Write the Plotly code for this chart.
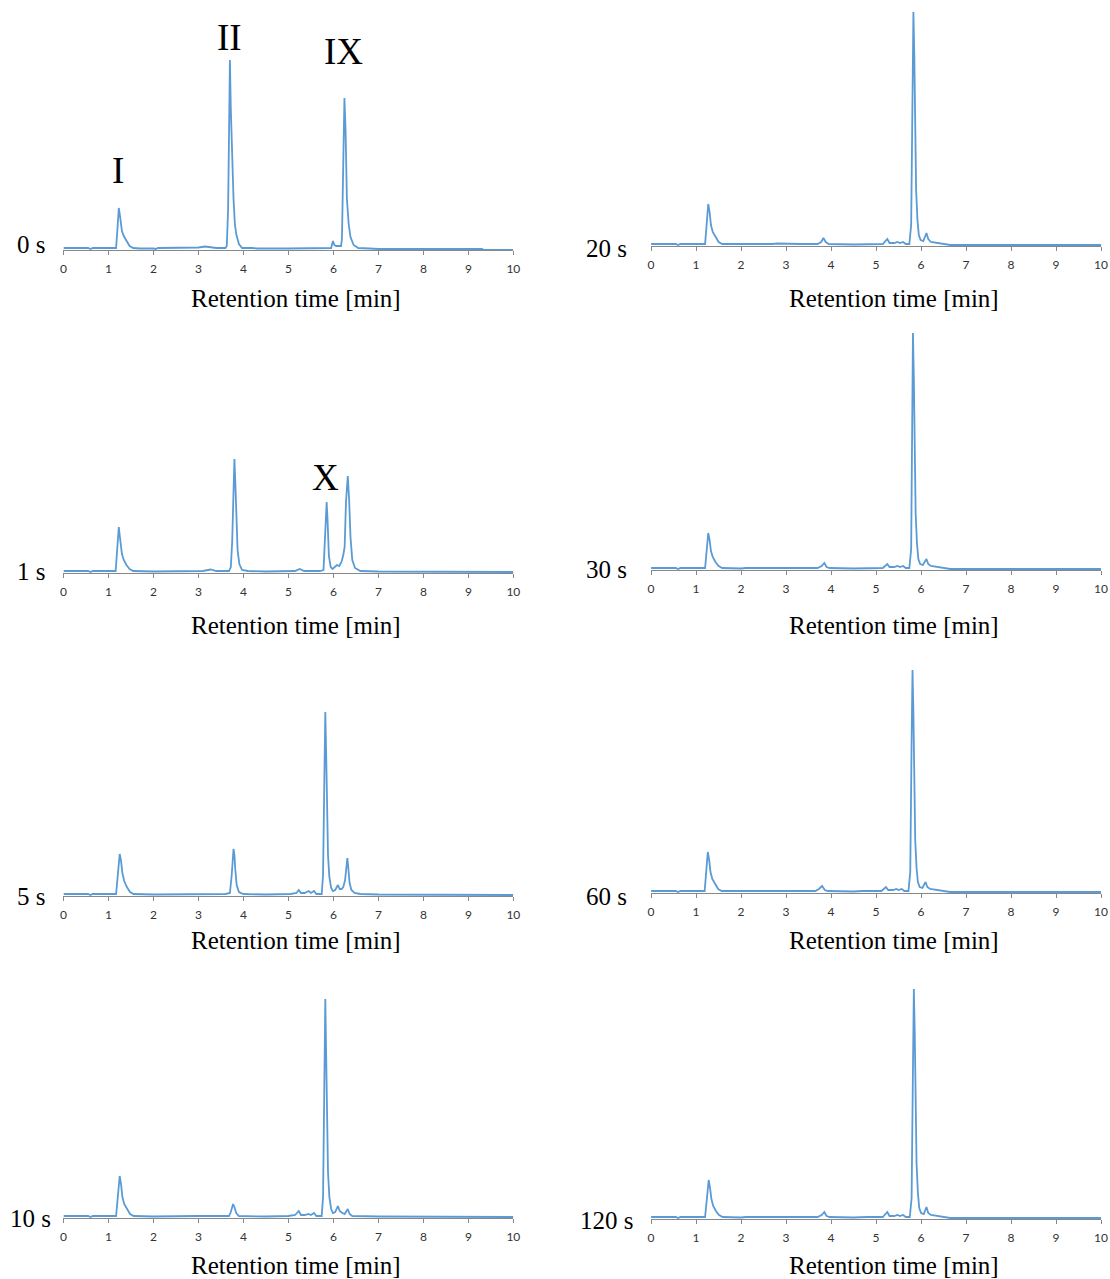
import plotly.graph_objects as go

# ---- Data: (retention time [min], detector signal [a.u.]) ----
trace_0s = [(0, 1), (0.55, 1), (0.6, 0), (0.65, 1), (1.0, 1), (1.17, 1), (1.20, 20), (1.23, 41), (1.26, 32),
            (1.30, 18), (1.34, 13), (1.40, 8), (1.47, 3), (1.55, 1), (1.7, 0.5), (2.0, 0.5), (2.05, 0), (2.1, 1),
            (2.8, 1), (3.0, 1.5), (3.15, 2.5), (3.25, 2), (3.4, 1), (3.6, 1), (3.63, 3), (3.66, 40), (3.68, 120),
            (3.70, 189), (3.72, 140), (3.75, 89), (3.78, 50), (3.81, 25), (3.84, 15), (3.90, 5), (3.97, 1),
            (4.2, 1), (4.3, 0.5), (5.0, 0.5), (5.9, 0.5), (5.95, 1), (5.99, 8), (6.02, 4), (6.06, 3), (6.12, 3),
            (6.17, 3), (6.19, 10), (6.21, 70), (6.245, 151), (6.27, 120), (6.30, 50), (6.34, 25), (6.38, 12),
            (6.45, 4), (6.55, 1), (6.8, 0.5), (7.0, 0), (8.0, 0), (9.3, 0), (9.35, -1), (10.0, -1)]

trace_1s = [(0, 1), (0.55, 1), (0.6, 0), (0.65, 1), (1.16, 1), (1.19, 20), (1.23, 45), (1.26, 33), (1.30, 18),
            (1.34, 12), (1.40, 7), (1.47, 3), (1.55, 1), (2.0, 0.5), (2.5, 0.5), (3.1, 1), (3.27, 2.5), (3.4, 1),
            (3.68, 1), (3.72, 5), (3.75, 30), (3.78, 90), (3.80, 113), (3.82, 90), (3.84, 50), (3.87, 22),
            (3.91, 8), (3.97, 2), (4.1, 1), (4.5, 0.5), (5.15, 1), (5.25, 3), (5.35, 1), (5.7, 1), (5.78, 2),
            (5.81, 30), (5.85, 70), (5.87, 52), (5.90, 16), (5.94, 5), (5.98, 3), (6.03, 5), (6.08, 7),
            (6.13, 6), (6.18, 10), (6.22, 17), (6.25, 25), (6.28, 70), (6.32, 96), (6.35, 72), (6.38, 35),
            (6.42, 12), (6.48, 4), (6.6, 1), (7.0, 0.5), (10.0, 0)]

trace_5s = [(0, 1), (0.55, 1), (0.6, 0), (0.65, 1), (1.17, 1), (1.20, 15), (1.25, 41), (1.28, 34), (1.31, 22),
            (1.35, 14), (1.41, 8), (1.48, 3), (1.56, 1), (2.0, 0.5), (3.2, 1), (3.3, 1.5), (3.6, 1), (3.70, 2),
            (3.74, 20), (3.78, 46), (3.80, 40), (3.82, 25), (3.85, 10), (3.90, 3), (4.0, 1), (4.5, 0.5),
            (5.05, 1), (5.18, 2), (5.23, 5), (5.28, 2), (5.36, 2), (5.45, 4), (5.50, 2), (5.57, 4), (5.62, 1),
            (5.74, 1), (5.77, 20), (5.80, 120), (5.82, 183), (5.84, 140), (5.86, 80), (5.88, 40), (5.91, 18),
            (5.95, 7), (5.99, 4), (6.04, 5), (6.10, 10), (6.14, 6), (6.18, 6), (6.22, 8), (6.26, 15),
            (6.29, 30), (6.31, 37), (6.33, 28), (6.36, 12), (6.40, 5), (6.47, 2), (6.6, 1), (7.0, 0.5), (10.0, 0)]

trace_10s = [(0, 1), (0.55, 1), (0.6, 0), (0.65, 1), (1.17, 1), (1.20, 15), (1.25, 41), (1.28, 33), (1.31, 20),
             (1.35, 13), (1.41, 8), (1.48, 3), (1.56, 1), (2.0, 0.5), (3.0, 1), (3.5, 1), (3.68, 1), (3.72, 5),
             (3.77, 13), (3.80, 10), (3.84, 4), (3.90, 1), (4.5, 0.5), (5.0, 1), (5.15, 2), (5.23, 6), (5.28, 2),
             (5.36, 2), (5.45, 3), (5.50, 2), (5.57, 4), (5.62, 1), (5.74, 1), (5.77, 20), (5.80, 140),
             (5.82, 218), (5.84, 160), (5.86, 90), (5.88, 45), (5.91, 20), (5.95, 8), (5.99, 4), (6.04, 5),
             (6.10, 11), (6.14, 6), (6.20, 4), (6.25, 3), (6.32, 8), (6.36, 3), (6.42, 1), (6.6, 1), (7.0, 0.5),
             (10.0, 0)]

trace_20s = [(0, 1), (0.55, 1), (0.6, 0), (0.65, 1), (1.20, 1), (1.23, 20), (1.27, 41), (1.30, 33), (1.33, 20),
             (1.37, 13), (1.43, 8), (1.50, 3), (1.58, 1), (2.0, 0.5), (2.1, 1), (2.7, 1), (2.8, 1.5), (3.3, 1),
             (3.7, 1), (3.78, 3), (3.83, 7), (3.88, 3), (3.95, 1), (4.5, 0.5), (4.8, 1), (5.15, 1), (5.25, 6),
             (5.30, 2), (5.40, 2), (5.48, 3), (5.53, 2), (5.60, 3), (5.66, 1), (5.74, 1), (5.78, 20), (5.81, 150),
             (5.83, 233), (5.85, 190), (5.87, 110), (5.89, 55), (5.92, 25), (5.95, 10), (5.99, 5), (6.05, 4),
             (6.12, 12), (6.16, 6), (6.22, 3), (6.35, 2), (6.55, 1), (6.65, 0), (7.0, 0), (10.0, 0)]

trace_30s = [(0, 1), (0.55, 1), (0.6, 0), (0.65, 1), (1.20, 1), (1.23, 18), (1.27, 36), (1.30, 29), (1.33, 18),
             (1.37, 12), (1.43, 7), (1.50, 3), (1.58, 1), (2.0, 0.5), (2.1, 1), (2.7, 1), (3.3, 1), (3.7, 1),
             (3.79, 3), (3.85, 6), (3.90, 2), (3.97, 1), (4.5, 0.5), (4.8, 1), (5.15, 1), (5.25, 5), (5.30, 2),
             (5.40, 2), (5.48, 3), (5.53, 2), (5.60, 3), (5.66, 1), (5.74, 1), (5.78, 20), (5.80, 150),
             (5.82, 236), (5.84, 190), (5.86, 110), (5.88, 55), (5.91, 25), (5.94, 10), (5.98, 5), (6.04, 4),
             (6.12, 10), (6.16, 5), (6.22, 3), (6.35, 2), (6.55, 1), (6.65, 0), (7.0, 0), (10.0, 0)]

trace_60s = [(0, 1), (0.55, 1), (0.6, 0), (0.65, 1), (1.19, 1), (1.22, 20), (1.26, 40), (1.29, 32), (1.32, 20),
             (1.36, 13), (1.42, 8), (1.49, 3), (1.57, 1), (2.0, 0.5), (2.1, 1), (2.7, 1), (3.3, 1), (3.65, 1),
             (3.73, 3), (3.80, 6), (3.86, 2), (3.93, 1), (4.5, 0.5), (4.7, 1), (5.12, 1), (5.22, 5), (5.27, 2),
             (5.38, 2), (5.45, 3), (5.50, 2), (5.57, 3), (5.63, 1), (5.72, 1), (5.76, 20), (5.79, 150),
             (5.81, 222), (5.83, 180), (5.85, 105), (5.87, 52), (5.90, 24), (5.93, 10), (5.97, 5), (6.03, 4),
             (6.10, 10), (6.14, 5), (6.20, 3), (6.33, 2), (6.55, 1), (6.65, 0), (7.0, 0), (10.0, 0)]

trace_120s = [(0, 1), (0.55, 1), (0.6, 0), (0.65, 1), (1.20, 1), (1.23, 18), (1.28, 38), (1.31, 30), (1.34, 19),
              (1.38, 12), (1.44, 7), (1.51, 3), (1.59, 1), (2.0, 0.5), (2.1, 1), (2.7, 1), (3.3, 1), (3.7, 1),
              (3.79, 3), (3.85, 6), (3.90, 2), (3.97, 1), (4.5, 0.5), (4.75, 1.5), (4.8, 1), (5.15, 1),
              (5.25, 6), (5.30, 2), (5.40, 2), (5.48, 3), (5.53, 2), (5.60, 3), (5.66, 1), (5.75, 1),
              (5.79, 20), (5.82, 150), (5.84, 229), (5.86, 185), (5.88, 108), (5.90, 54), (5.93, 25),
              (5.96, 10), (6.00, 5), (6.06, 4), (6.12, 11), (6.16, 5), (6.22, 3), (6.35, 2), (6.55, 1),
              (6.65, 0), (7.0, 0), (10.0, 0)]

panel_labels = ["0 s", "1 s", "5 s", "10 s", "20 s", "30 s", "60 s", "120 s"]
panel_traces = [trace_0s, trace_1s, trace_5s, trace_10s, trace_20s, trace_30s, trace_60s, trace_120s]
x_ticks = list(range(0, 11))
x_title = "Retention time [min]"

# peak labels: (panel index, retention time, signal level for label, text)
peak_labels = [(0, 1.22, 78, "I"), (0, 3.70, 211, "II"), (0, 6.22, 197, "IX"), (1, 5.83, 95, "X")]

# ---- Layout (pixel geometry, in paper px of a slightly wider canvas) ----
W, H = 1110, 1279
col_x = [(61, 515), (654, 1108)]
bottoms = [250, 573, 896, 1218, 246, 570, 893, 1219]
PH = 240  # plot height in px; 1 signal unit = 1 px
title_y = [298, 625, 940, 1265, 298, 625, 940, 1265]
title_x = [296, 899]
label_xy = [(28, 244), (28, 571), (28, 896), (28, 1218), (609, 248), (609, 569), (609, 896), (609, 1220)]


def px(x):
    return min(1.0, max(0.0, x / W))


def py(y):
    return min(1.0, max(0.0, 1 - y / H))


serif = "Liberation Serif, Times New Roman, serif"
line_color = "#5B9BD5"

fig = go.Figure()
layout = dict(width=W, height=H, margin=dict(l=0, r=0, t=0, b=0),
              paper_bgcolor="white", plot_bgcolor="white", showlegend=False)
annotations = []

for i, (lab, tr) in enumerate(zip(panel_labels, panel_traces)):
    col = 0 if i < 4 else 1
    n = i + 1
    xs = [p[0] for p in tr]
    ys = [p[1] for p in tr]
    fig.add_trace(go.Scatter(x=xs, y=ys, mode="lines", line=dict(color=line_color, width=1.8),
                             xaxis=f"x{n}", yaxis=f"y{n}", hoverinfo="skip", cliponaxis=False))
    x0, x1 = col_x[col]
    b = bottoms[i]
    top = max(b - PH, 0)
    layout[f"xaxis{n}"] = dict(domain=[px(x0), px(x1)], anchor=f"y{n}", range=[0, 10],
                               tickvals=x_ticks, ticks="outside", ticklen=4, tickcolor="#888888",
                               showline=True, linecolor="#888888", linewidth=1, showgrid=False,
                               zeroline=False, ticklabelstandoff=4,
                               tickfont=dict(family="Lato, Open Sans, sans-serif", size=12, color="#333333"))
    layout[f"yaxis{n}"] = dict(domain=[py(b), py(top)], anchor=f"x{n}", range=[-1, (b - top) - 1],
                               visible=False, showgrid=False, zeroline=False)
    annotations.append(dict(x=px(title_x[col]), y=py(title_y[i]), xref="paper", yref="paper",
                            text=x_title, showarrow=False, xanchor="center", yanchor="middle",
                            font=dict(family=serif, size=25, color="black")))
    lx, ly = label_xy[i]
    annotations.append(dict(x=px(lx), y=py(ly), xref="paper", yref="paper", text=lab,
                            showarrow=False, xanchor="center", yanchor="middle",
                            font=dict(family=serif, size=25, color="black")))

for idx, t, yv, txt in peak_labels:
    annotations.append(dict(x=t, y=yv, xref=f"x{idx + 1}", yref=f"y{idx + 1}", text=txt,
                            showarrow=False, xanchor="center", yanchor="middle",
                            font=dict(family=serif, size=37, color="black")))

layout["annotations"] = annotations
fig.update_layout(**layout)
fig.write_html("out.html", config={"displayModeBar": False},
               post_script="document.body.style.margin='0';document.body.style.overflow='hidden';"
                           "document.documentElement.style.overflow='hidden';")
